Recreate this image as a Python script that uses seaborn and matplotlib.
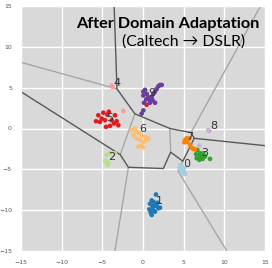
import numpy as np
import pandas as pd
import matplotlib
matplotlib.use("Agg")
import matplotlib.pyplot as plt
import seaborn as sns

# Visualization settings
sns.set_style("darkgrid", {"axes.facecolor": "#d9d9d9", "grid.color": "white"})

# Embedded points per class
x0 = [4.47, 4.76, 4.64, 4.96, 4.88, 5.17, 5.04, 4.55]
y0 = [-4.77, -4.65, -5.05, -5.17, -5.45, -5.58, -4.85, -4.5]
x1 = [1.6, 1.07, 1.27, 0.86, 1.48, 1.68, 1.89, 1.19, 0.78, 1.27, 1.07, 1.48, 2.09, 1.76, 0.95, 1.35]
y1 = [-8.08, -8.81, -8.97, -9.21, -9.29, -9.49, -9.78, -9.62, -9.9, -10.02, -10.59, -10.18, -9.7, -9.09, -10.3, -9.45]
x2 = [-4.47, -4.06, -4.47, -4.26, -4.67, -3.44, -4.35]
y2 = [-3.23, -3.03, -4.04, -4.24, -3.96, -3.03, -4.45]
x3 = [6.68, 7.01, 7.22, 6.81, 6.6, 6.93, 7.34, 7.63, 8.24, 7.1, 7.42, 6.52]
y3 = [-2.63, -3.03, -3.23, -3.43, -3.64, -3.84, -3.72, -3.43, -3.72, -3.55, -3.03, -3.15]
x4 = [-3.85, -3.75, -2.42]
y4 = [5.25, 5.1, 2.14]
x5 = [-5.49, -4.88, -4.39, -5.08, -5.78, -5.29, -4.67, -4.55, -3.44, -3.24, -3.57, -4.06, -3.03, -3.85, -4.2, 0.45]
y5 = [1.62, 1.94, 1.7, 1.21, 0.89, 0.81, 1.01, 0.2, 1.62, 0.89, 0.61, 0.32, 0.4, 1.01, 2.05, 2.9]
x6 = [-1.39, -0.98, -0.78, -1.19, -0.45, -0.16, 0.25, 0.45, 0.66, -0.37, -0.78, 0.04, -0.57, -0.16, 0.04]
y6 = [-0.2, 0.0, -0.4, -0.81, -0.61, -0.81, -1.01, -1.41, -1.21, -1.41, -1.21, -1.62, -2.22, -2.1, -2.3]
x7 = [5.17, 5.37, 5.08, 5.45, 5.78, 5.99, 6.19, 5.7, 6.4]
y7 = [-1.41, -1.21, -1.7, -1.62, -2.02, -2.34, -2.5, -1.21, -2.55]
x8 = [8.16, 8.02, 6.93]
y8 = [-0.32, -0.2, -2.1]
x9 = [0.04, 0.25, 0.45, 0.04, 0.66, 0.86, 1.19, 1.48, 0.37, 1.27, 1.68, 1.89, 2.09, 1.48, 1.07, 0.04, -0.16, 0.12, 0.86, 2.3]
y9 = [4.52, 4.73, 4.24, 4.04, 3.84, 3.43, 3.43, 3.15, 3.55, 4.24, 4.85, 5.17, 5.33, 4.52, 3.84, 2.22, 1.82, 3.15, 3.15, 5.33]

class_x = [x0, x1, x2, x3, x4, x5, x6, x7, x8, x9]
class_y = [y0, y1, y2, y3, y4, y5, y6, y7, y8, y9]

# Class label positions
label_x = [5.37, 2.0, -3.85, 7.63, -3.24, -4.06, -0.04, 5.78, 8.65, 1.07]
label_y = [-4.36, -8.89, -3.55, -2.95, 5.58, 1.29, -0.12, -1.01, 0.32, 4.36]

# Decision boundaries (dark = main, light = secondary)
dark_lines = [
    ([-3.55, -3.2, -1.0, 3.3, 5.9, 6.3, 15.0], [15.0, 4.85, 1.8, 0.0, -0.5, -1.2, -2.1]),
    ([6.3, 4.9, 3.4, 2.5, -1.8, -2.8, -15.0], [-1.2, -4.0, -2.9, -4.9, -4.75, -3.2, 4.5]),
]
light_lines = [
    ([-15.0, -3.2], [8.1, 4.85]),
    ([-1.0, -2.8], [1.8, -3.2]),
    ([3.3, 3.4], [0.0, -2.9]),
    ([-1.8, -3.45], [-4.75, -15.0]),
    ([4.9, 4.3, 10.3], [-4.0, -5.2, -15.0]),
    ([14.45, 5.9], [15.0, -0.5]),
]

rows = []
for k in range(10):
    for xv, yv in zip(class_x[k], class_y[k]):
        rows.append({"x": xv, "y": yv, "label": k})
df = pd.DataFrame(rows)

fig = plt.figure(figsize=(2.72, 2.68), dpi=100)
ax = fig.add_axes([21 / 272, 17 / 268, 244 / 272, 245 / 268])

for lx, ly in light_lines:
    ax.plot(lx, ly, color="#a6a6a6", lw=1.0, zorder=2)
for lx, ly in dark_lines:
    ax.plot(lx, ly, color="#585858", lw=1.0, zorder=2)

sns.scatterplot(data=df, x="x", y="y", hue="label", palette=sns.color_palette("Paired", 10),
                s=11, linewidth=0, legend=False, ax=ax, zorder=3)

for k in range(10):
    ax.text(label_x[k], label_y[k], str(k), fontsize=8, color="#333333",
            ha="center", va="center", zorder=4)

ax.set_xlim(-15, 15)
ax.set_ylim(-15, 15)
ax.set_xticks([-15, -10, -5, 0, 5, 10, 15])
ax.set_yticks([-15, -10, -5, 0, 5, 10, 15])
ax.set_xlabel("")
ax.set_ylabel("")
ax.tick_params(labelsize=4.5, colors="#555555", pad=3)
ax.grid(True, color="white", lw=1.0)
ax.set_axisbelow(True)

# Title inside the plot, scaled to width seen in the picture
t1 = ax.text(0.60, 0.91, "After Domain Adaptation", transform=ax.transAxes,
             ha="center", va="baseline", fontsize=13, fontweight="bold",
             family=["Lato", "DejaVu Sans"], color="black", zorder=5)
t2 = ax.text(0.666, 0.837, "(Caltech \u2192 DSLR)", transform=ax.transAxes,
             ha="center", va="baseline", fontsize=11,
             family=["Lato", "DejaVu Sans"], color="black", zorder=5)
r = fig.canvas.get_renderer()
for t, target in [(t1, 183), (t2, 123)]:
    w = t.get_window_extent(renderer=r).width
    t.set_fontsize(t.get_fontsize() * target / w)

fig.savefig("out.png", dpi=100)
